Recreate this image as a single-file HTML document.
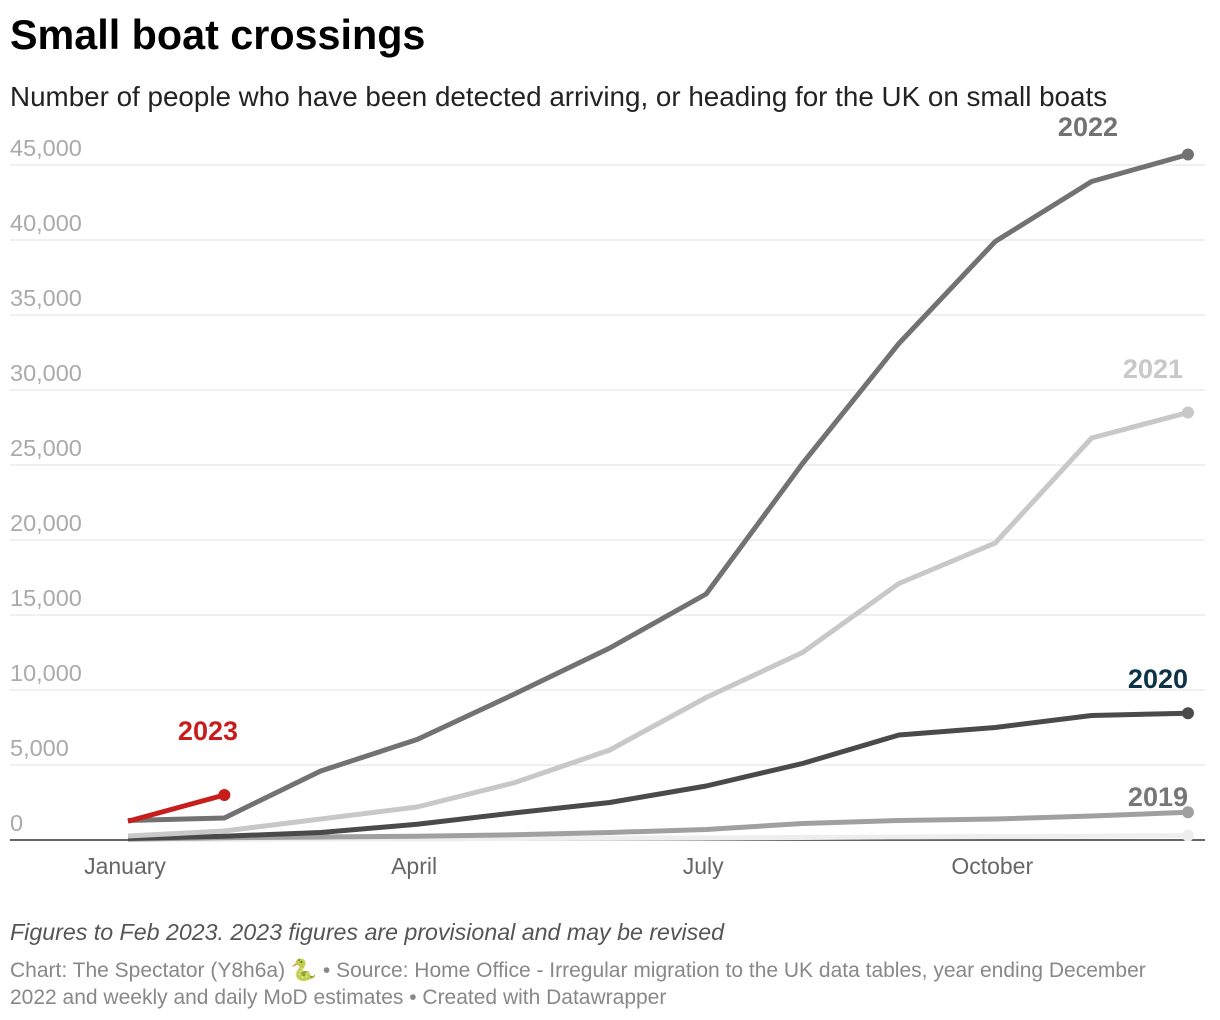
<!DOCTYPE html>
<html><head><meta charset="utf-8"><style>
body{margin:0;background:#fff;font-family:"Liberation Sans",sans-serif;width:1220px;height:1020px;overflow:hidden;position:relative}
.t{position:absolute;white-space:nowrap}
</style></head><body>
<div class="t" style="left:10px;top:12px;font-size:41.3px;font-weight:bold;color:#000">Small boat crossings</div>
<div class="t" style="left:10px;top:81px;font-size:27.8px;color:#222">Number of people who have been detected arriving, or heading for the UK on small boats</div>
<svg id="c" width="1220" height="900" style="position:absolute;left:0;top:0"></svg>
<div class="t" style="left:10px;top:919px;font-size:23.2px;font-style:italic;color:#555">Figures to Feb 2023. 2023 figures are provisional and may be revised</div>
<div class="t" style="left:10px;top:957px;font-size:21px;color:#888;line-height:27px;white-space:normal;width:1185px">Chart: The Spectator (Y8h6a) 🐍 • Source: Home Office - Irregular migration to the UK data tables, year ending December 2022 and weekly and daily MoD estimates • Created with Datawrapper</div>
<script>
const months=["Jan","Feb","Mar","Apr","May","Jun","Jul","Aug","Sep","Oct","Nov","Dec"];
const yTicks=[0,5000,10000,15000,20000,25000,30000,35000,40000,45000];
const xLabels=[["January",0],["April",3],["July",6],["October",9]];
const s2018=[20,40,60,80,100,120,140,170,200,230,260,300];
const s2019=[60,150,200,250,350,500,700,1100,1300,1400,1600,1850];
const s2020=[100,250,500,1050,1800,2500,3600,5100,7000,7500,8300,8450];
const s2021=[270,600,1400,2200,3800,6000,9500,12500,17100,19800,26800,28500];
const s2022=[1300,1470,4600,6700,9700,12800,16400,25100,33100,39900,43900,45700];
const s2023=[1250,3000];
const X=i=>128+i*96.36, Y=v=>840-v*0.015;
const svg=document.getElementById('c');const NS="http://www.w3.org/2000/svg";
function el(t,a,p){const e=document.createElementNS(NS,t);for(const k in a)e.setAttribute(k,a[k]);(p||svg).appendChild(e);return e;}
yTicks.forEach(v=>{
 const l=el('line',{x1:10,x2:1205,y1:Y(v),y2:Y(v),stroke:v?'#e2e2e2':'#333','stroke-width':v?1:1.5});
 
 const t=el('text',{x:10,y:Y(v)-9,'font-size':23.5,fill:'#aaa','font-family':'Liberation Sans'});t.textContent=v.toLocaleString('en-US');
 
});
xLabels.forEach(([n,i])=>{const t=el('text',{x:X(i)-3,y:874,'text-anchor':'middle','font-size':23,fill:'#666','font-family':'Liberation Sans'});t.textContent=n;
 });
function series(d,c,name,lab,lx,ly,lc){
 const p=el('polyline',{points:d.map((v,i)=>X(i)+','+Y(v)).join(' '),fill:'none',stroke:c,'stroke-width':5,'stroke-linejoin':'round'});
 
 const n=d.length-1;const dt=el('circle',{cx:X(n),cy:Y(d[n]),r:6,fill:c});
 
 if(lab){const t=el('text',{x:lx,y:ly,'text-anchor':'end','font-size':27,'font-weight':'bold',fill:lc||c,'font-family':'Liberation Sans'});t.textContent=lab;
 }
}
series(s2018,'#eeeeee','2018');
series(s2019,'#a0a0a0','2019','2019',1188,806,'#777');
series(s2020,'#4a4a4a','2020','2020',1188,688,'#0d3349');
series(s2021,'#c8c8c8','2021','2021',1183,378);
series(s2022,'#727272','2022','2022',1118,136);
series(s2023,'#c71e1d','2023','2023',238,740);
</script>
</body></html>
